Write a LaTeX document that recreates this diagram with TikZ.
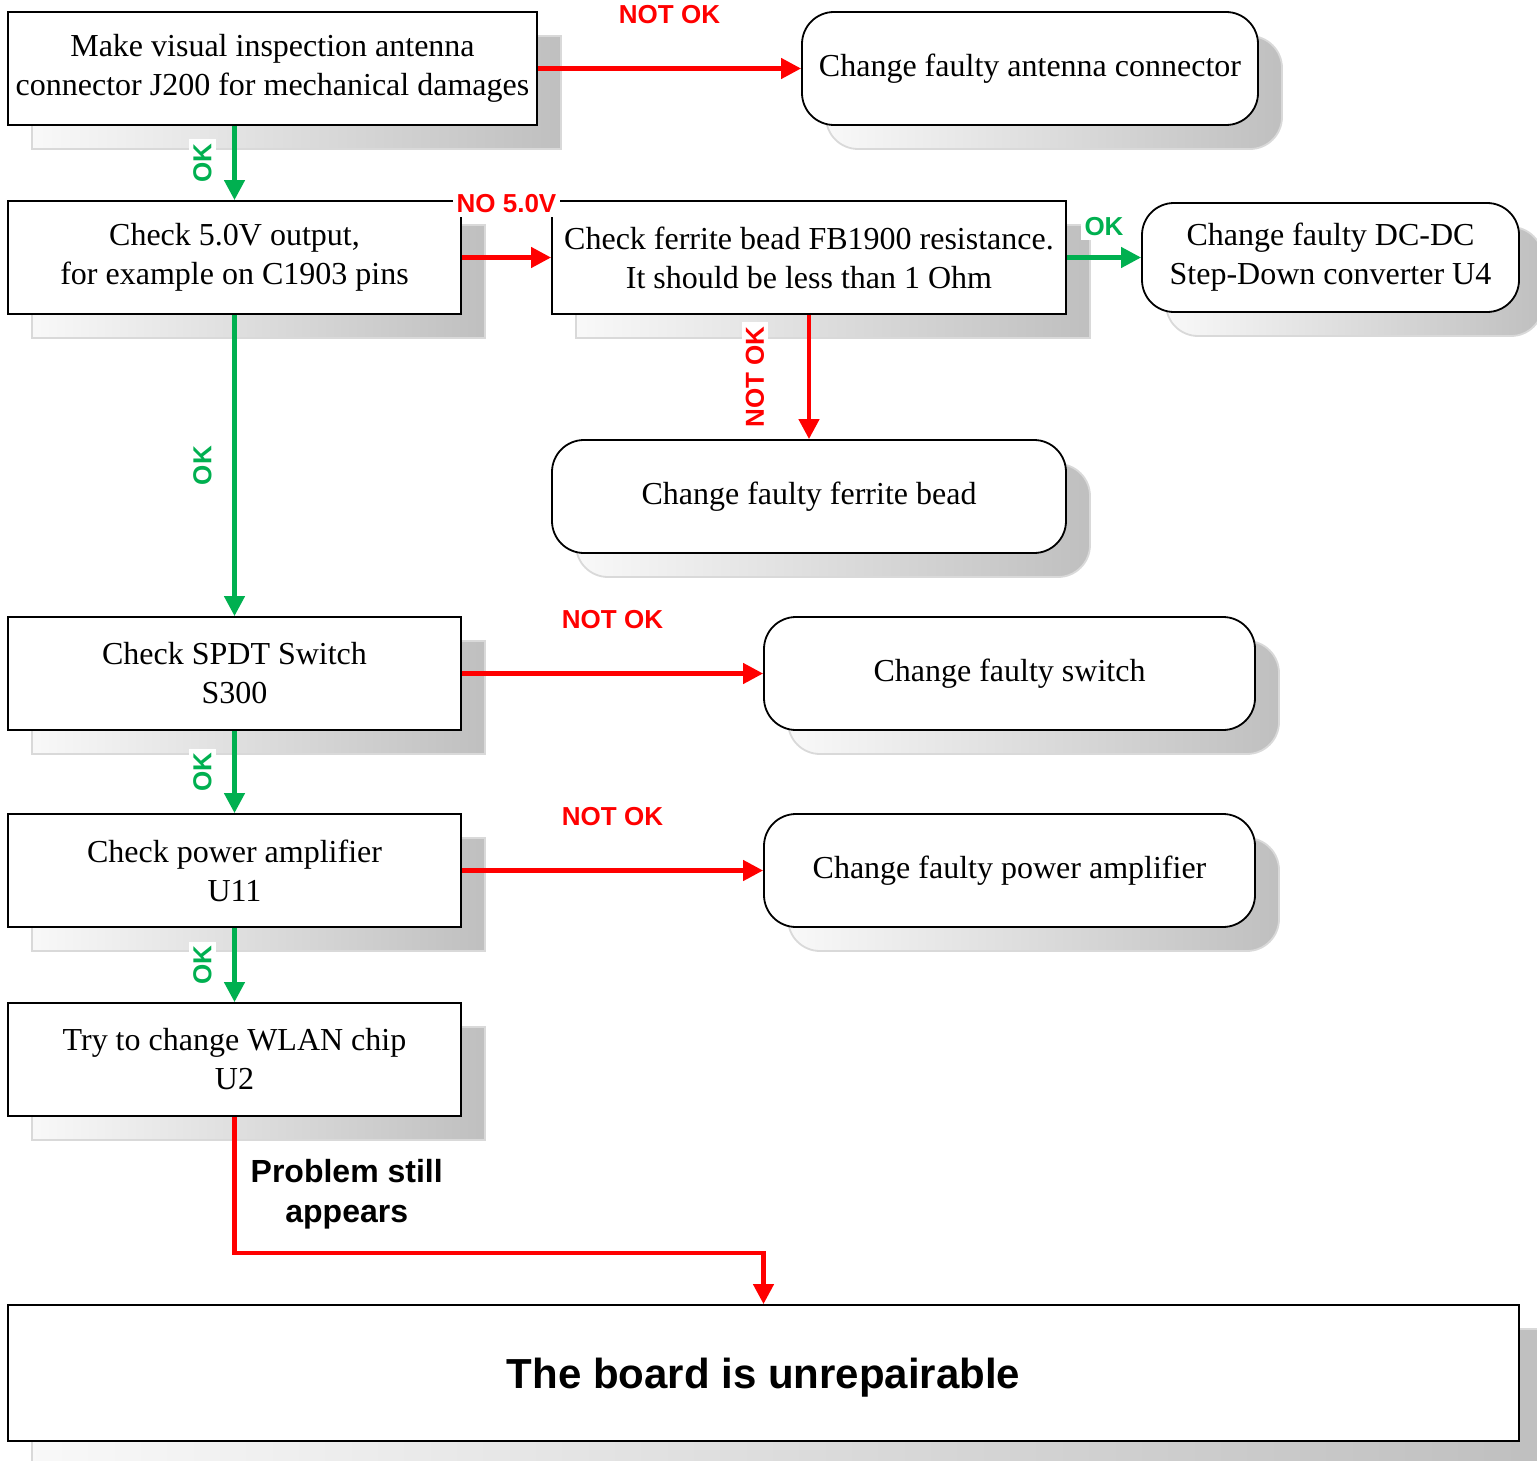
\documentclass[tikz,border=0pt]{standalone}
\usepackage{fontspec}
\setmainfont{Liberation Serif}
\setsansfont{Liberation Sans}
\usetikzlibrary{arrows.meta}
\definecolor{okgreen}{HTML}{00B050}
\definecolor{nokred}{HTML}{FF0000}
\begin{document}
\begin{tikzpicture}[x=0.5pt,y=-0.5pt,
		shadowed/.style={preaction={draw=gray!30,left color=gray!5,right color=gray!50,transform canvas={shift={(12pt,-12pt)}}}},
		stepbox/.style={shadowed,draw,line width=0.9pt,fill=white,align=center,inner sep=0pt,minimum height=56.5pt,font=\fontsize{16}{19.5}\selectfont},
		fixbox/.style={stepbox,rounded corners=16pt},
		link/.style={line width=2.2pt,-{Triangle[length=10pt,width=10pt]}},
		yes/.style={link,draw=okgreen},
		nok/.style={link,draw=nokred},
		tag/.style={fill=white,inner sep=2pt,font=\sffamily\bfseries\fontsize{13}{15}\selectfont},
		oktag/.style={tag,text=okgreen},
		notag/.style={tag,text=nokred}]
	\useasboundingbox (0,0) rectangle (1537,1461);
	% checks
	\node[stepbox,minimum width=264.5pt] (inspect) at (272.5,68.5) {Make visual inspection antenna\\connector J200 for mechanical damages};
	\node[stepbox,minimum width=226.5pt] (five) at (234.5,257.5) {Check 5.0V output,\\for example on C1903 pins};
	\node[stepbox,minimum width=257pt] (bead) at (809,257.5) {Check ferrite bead FB1900 resistance.\\It should be less than 1 Ohm};
	\node[stepbox,minimum width=226.5pt] (spdt) at (234.5,673.5) {Check SPDT Switch\\S300};
	\node[stepbox,minimum width=226.5pt] (pa) at (234.5,870.5) {Check power amplifier\\U11};
	\node[stepbox,minimum width=226.5pt] (wlan) at (234.5,1059.5) {Try to change WLAN chip\\U2};
	% repairs
	\node[fixbox,minimum width=228pt] (antfix) at (1030,68.5) {Change faulty antenna connector};
	\node[fixbox,minimum width=188.5pt,minimum height=54.5pt] (dcfix) at (1330.5,257.5) {Change faulty DC-DC\\Step-Down converter U4};
	\node[fixbox,minimum width=257pt] (beadfix) at (809,496.5) {Change faulty ferrite bead};
	\node[fixbox,minimum width=245.5pt] (swfix) at (1009.5,673.5) {Change faulty switch};
	\node[fixbox,minimum width=245.5pt] (pafix) at (1009.5,870.5) {Change faulty power amplifier};
	\node[stepbox,minimum width=755.5pt,minimum height=68pt,text height=19pt,text depth=4pt,font=\sffamily\bfseries\fontsize{21}{25}\selectfont] (board) at (763.5,1373) {The board is unrepairable};
	% connectors
	\draw[nok] (inspect.east) -- node[notag,midway,yshift=27pt]{NOT OK} (antfix.west);
	\draw[yes] (five.north |- inspect.south) -- node[oktag,midway,xshift=-16pt,rotate=90]{OK} (five.north);
	\draw[nok] (five.east) -- node[notag,midway,yshift=27pt]{NO 5.0V} (bead.west);
	\draw[yes] (bead.east) -- node[oktag,midway,yshift=15.5pt]{OK} (dcfix.west);
	\draw[nok] (bead.south) -- node[notag,midway,xshift=-27pt,rotate=90]{NOT OK} (beadfix.north);
	\draw[yes] (five.south) -- node[oktag,midway,xshift=-16pt,rotate=90]{OK} (spdt.north);
	\draw[nok] (spdt.east) -- node[notag,midway,yshift=27pt]{NOT OK} (swfix.west);
	\draw[yes] (spdt.south) -- node[oktag,midway,xshift=-16pt,rotate=90]{OK} (pa.north);
	\draw[nok] (pa.east) -- node[notag,midway,yshift=27pt]{NOT OK} (pafix.west);
	\draw[yes] (pa.south) -- node[oktag,midway,xshift=-16pt,rotate=90]{OK} (wlan.north);
	\draw[nok] (wlan.south) -- node[midway,anchor=west,xshift=7pt,yshift=-4.5pt,inner sep=0pt,align=center,font=\sffamily\bfseries\fontsize{16}{20}\selectfont]{Problem still\\appears} ++(0,136) -| (board.north);
\end{tikzpicture}
\end{document}
